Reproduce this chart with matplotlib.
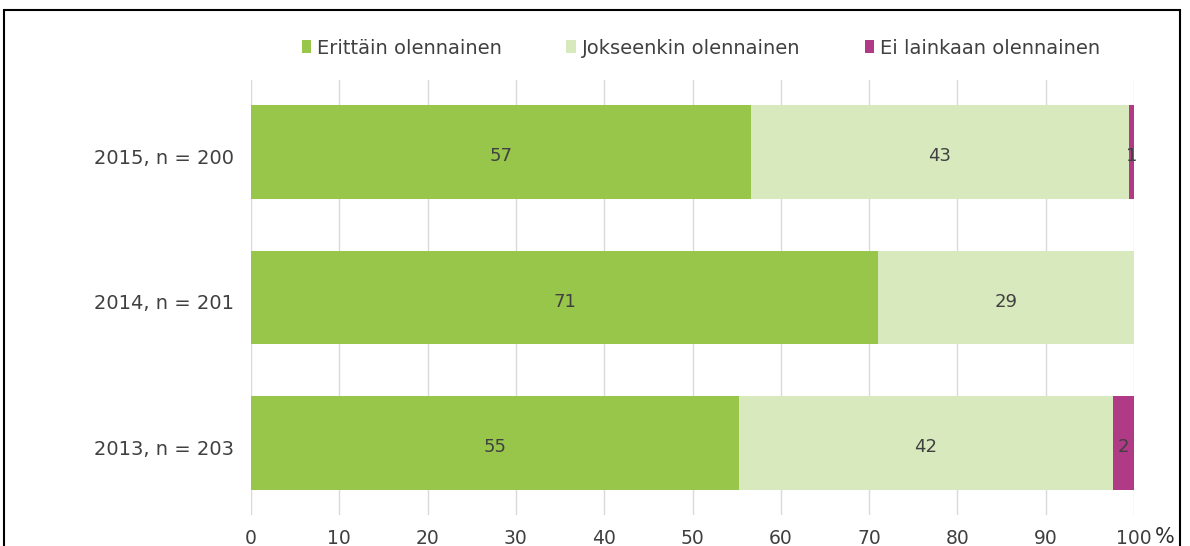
import matplotlib.pyplot as plt
import numpy as np
from matplotlib.patches import Patch, Rectangle

plt.rcParams["font.family"] = ["DejaVu Sans"]

categories = ["2015, n = 200", "2014, n = 201", "2013, n = 203"]
series_names = ["Erittäin olennainen", "Jokseenkin olennainen", "Ei lainkaan olennainen"]
very = [56.6, 71.0, 55.3]
somewhat = [42.8, 29.0, 42.3]
not_at_all = [0.6, 0.0, 2.4]
labels_very = ["57", "71", "55"]
labels_somewhat = ["43", "29", "42"]
labels_not = ["1", "", "2"]
colors = ["#97c64a", "#d8e9bd", "#b03a85"]
x_ticks = [0, 10, 20, 30, 40, 50, 60, 70, 80, 90, 100]

W, H = 1190, 546
fig = plt.figure(figsize=(W / 100, H / 100), dpi=100)
ax = fig.add_axes([251 / W, 1 - 515 / H, (1134 - 251) / W, 435 / H])

y = np.arange(len(categories))
left = np.zeros(len(categories))
series = [very, somewhat, not_at_all]
labels = [labels_very, labels_somewhat, labels_not]
for vals, labs, col in zip(series, labels, colors):
    vals = np.array(vals)
    ax.barh(y, vals, left=left, height=0.646, color=col, zorder=2)
    for yi, v, l, lab in zip(y, vals, left, labs):
        if lab:
            ax.text(l + v / 2, yi + 0.03, lab, ha="center", va="center",
                    fontsize=13, color="#404040", zorder=3)
    left += vals

ax.set_xlim(0, 100)
ax.set_ylim(2.495, -0.495)
ax.set_yticks(y + 0.03)
ax.set_yticklabels(categories, fontsize=14, color="#404040")
ax.set_xticks(x_ticks)
ax.set_xticklabels([str(t) for t in x_ticks], fontsize=13.5, color="#404040")
ax.tick_params(axis="x", length=0, pad=10)
ax.tick_params(axis="y", length=0, pad=12)
ax.grid(axis="x", color="#dadada", linewidth=1, zorder=0)
for s in ax.spines.values():
    s.set_visible(False)

fig.text(1155 / W, 1 - 537 / H, "%", fontsize=15, color="#303030",
         ha="left", va="center")

handles = [Patch(facecolor=c, edgecolor="none") for c in colors]
fig.legend(handles, series_names, loc="center", ncol=3, frameon=False,
           bbox_to_anchor=(701 / W, 1 - 48 / H), fontsize=14,
           handlelength=0.5, handleheight=0.65, handletextpad=0.3,
           columnspacing=3.3, labelcolor="#404040")

fig.patches.append(Rectangle((4 / W, -0.1), 1176 / W, 1.1 - 10 / H,
                             transform=fig.transFigure, fill=False,
                             edgecolor="black", linewidth=1.5))

fig.savefig("out.png", dpi=100)
